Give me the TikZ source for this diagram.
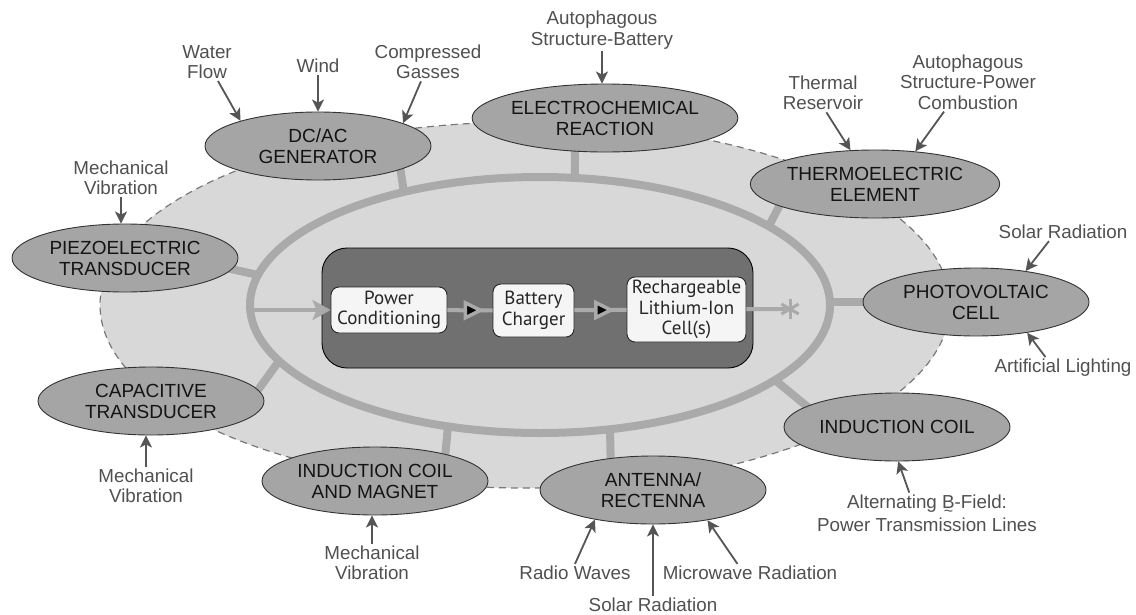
\documentclass[tikz,border=0pt]{standalone}
\usepackage{fontspec}
\setmainfont{Liberation Sans}
\newfontfamily\boxfont{PT Sans}
\usetikzlibrary{shapes.geometric,arrows.meta,calc}
\definecolor{bgfill}{RGB}{216,216,216}
\definecolor{dashc}{RGB}{120,120,120}
\definecolor{ringc}{RGB}{170,170,170}
\definecolor{ellfill}{RGB}{165,165,165}
\definecolor{corefill}{RGB}{112,112,112}
\definecolor{boxfill}{RGB}{245,245,245}
\definecolor{labc}{RGB}{80,80,80}
\definecolor{arrc}{RGB}{85,85,85}
\definecolor{txtc}{RGB}{20,20,20}
\pgfdeclarelayer{bg}
\pgfsetlayers{bg,main}
\newcommand\tildeB{\ooalign{B\cr\hidewidth\raisebox{-8pt}{\fontsize{16}{16}\selectfont\textasciitilde}\hidewidth\cr}}
\begin{document}
\begin{tikzpicture}[x=1pt,y=-1pt,
  src/.style={ellipse, draw=black!80, line width=0.9pt, fill=ellfill, minimum width=226pt, minimum height=68pt, inner sep=0pt, align=center, font=\fontsize{19}{21}\selectfont, text=txtc},
  lab/.style={align=center, font=\fontsize{18.8}{20.5}\selectfont, text=labc, inner sep=2pt},
  feed/.style={draw=arrc, line width=1.8pt, -{Stealth[length=12pt,width=12pt,inset=3pt]}},
  spoke/.style={draw=ringc, line width=8pt, shorten >=-6pt},
  cbox/.style={draw=black!85, line width=0.9pt, fill=boxfill, rounded corners=8pt, align=center, font=\boxfont\fontsize{19}{20.5}\selectfont, inner sep=1pt, text=black!85},
  flow/.style={draw=ringc, line width=4pt},
  midmark/.style={isosceles triangle, isosceles triangle stretches, fill=black, draw=ringc, line width=3.5pt, minimum width=15pt, minimum height=15pt, inner sep=0pt}
]
\useasboundingbox (0,0) rectangle (1136,614);

\begin{pgfonlayer}{bg}
  \fill[bgfill] (525,305) ellipse [x radius=425pt, y radius=183pt];
  \draw[dashc, line width=1.2pt, dash pattern=on 7pt off 5pt] (525,305) ellipse [x radius=425pt, y radius=183pt];
  \draw[ringc, line width=8pt] (540,305) ellipse [x radius=290pt, y radius=128pt];
\end{pgfonlayer}

% source ellipses
\node[src] (gen) at (318,146) {DC/AC\\GENERATOR};
\node[src] (elec) at (605,118) {ELECTROCHEMICAL\\REACTION};
\node[src] (thermo) at (875,184) {THERMOELECTRIC\\ELEMENT};
\node[src] (piezo) at (125,258) {PIEZOELECTRIC\\TRANSDUCER};
\node[src] (photo) at (976,302) {PHOTOVOLTAIC\\CELL};
\node[src] (cap) at (151,401) {CAPACITIVE\\TRANSDUCER};
\node[src] (ind) at (897,427) {INDUCTION COIL};
\node[src] (mag) at (375,481) {INDUCTION COIL\\AND MAGNET};
\node[src] (ant) at (653,490) {ANTENNA/\\RECTENNA};

% outer labels
\node[lab] (wf) at (207,62) {Water\\Flow};
\node[lab] (wind) at (318,66) {Wind};
\node[lab] (cg) at (428,62) {Compressed\\Gasses};
\node[lab] (asb) at (602,30) {Autophagous\\Structure-Battery};
\node[lab] (tr) at (823,93) {Thermal\\Reservoir};
\node[lab] (aspc) at (968,82) {Autophagous\\Structure-Power\\Combustion};
\node[lab] (mv1) at (121,178) {Mechanical\\Vibration};
\node[lab] (sr1) at (1063,232) {Solar Radiation};
\node[lab] (al) at (1063,368) {Artificial Lighting};
\node[lab] (mv2) at (146,486) {Mechanical\\Vibration};
\node[lab] (abf) at (927,513) {Alternating \tildeB-Field:\\Power Transmission Lines};
\node[lab] (mv3) at (372,563) {Mechanical\\Vibration};
\node[lab] (rw) at (575,573) {Radio Waves};
\node[lab] (mw) at (750,573) {Microwave Radiation};
\node[lab] (sr2) at (653,605) {Solar Radiation};

% feed arrows
\draw[feed] (wf.-60) -- (gen.162);
\draw[feed] (wind.south) -- (gen.north);
\draw[feed] (cg.-110) -- (gen.15);
\draw[feed] (asb.south) -- (asb.south |- elec.north);
\draw[feed] (tr.-80) -- (thermo.126);
\draw[feed] (aspc.-129) -- (thermo.39);
\draw[feed] (mv1.south) -- (mv1.south |- piezo.north);
\draw[feed] (sr1.-147) -- (photo.32);
\draw[feed] (al.148) -- (photo.-31);
\draw[feed] (mv2.north) -- (mv2.north |- cap.south);
\draw[feed] (abf.131) -- (ind.-88);
\draw[feed] (mv3.north) -- (mv3.north |- mag.south);
\draw[feed] (rw.north) -- (ant.-153);
\draw[feed] (mw.144) -- (ant.-29);
\draw[feed] (sr2.north) -- (ant.south);

% ring points and spokes
\coordinate (r-gen) at (404,193);
\coordinate (r-elec) at (575,178);
\coordinate (r-thermo) at (769,226);
\coordinate (r-piezo) at (258,275);
\coordinate (r-photo) at (830,302);
\coordinate (r-cap) at (279,361);
\coordinate (r-mag) at (448,426);
\coordinate (r-ant) at (610,429);
\coordinate (r-ind) at (775,380);
\begin{pgfonlayer}{bg}
  \draw[spoke] (r-gen) -- (gen.-16);
  \draw[spoke] (r-elec) -- (elec.-132);
  \draw[spoke] (r-thermo) -- (thermo.-167);
  \draw[spoke] (r-piezo) -- (piezo.-6);
  \draw[spoke] (r-photo) -- (photo.west);
  \draw[spoke] (r-cap) -- (cap.6);
  \draw[spoke] (r-mag) -- (mag.21);
  \draw[spoke] (r-ant) -- (ant.143);
  \draw[spoke] (r-ind) -- (ind.167);
\end{pgfonlayer}

% core
\node[draw=black, line width=0.9pt, fill=corefill, rounded corners=25pt, minimum width=431pt, minimum height=120pt] (core) at (537.5,308) {};
\node[cbox, minimum width=116pt, minimum height=46pt] (pc) at (389,310) {Power\\Conditioning};
\node[cbox, minimum width=81pt, minimum height=53pt] (bc) at (533.5,310.5) {Battery\\Charger};
\node[cbox, minimum width=119pt, minimum height=65pt] (cell) at (686.5,309.5) {Rechargeable\\Lithium-Ion\\Cell(s)};

\coordinate (rin) at (250,310);
\draw[flow, -{Stealth[length=18pt,width=20pt,inset=4pt]}] (rin) -- (pc.west);
\draw[flow] (pc) -- node[midmark]{} (bc);
\draw[flow] (bc) -- node[midmark]{} (cell);
\coordinate (star) at (790,309);
\draw[flow] (cell) -- (star);
\foreach \a in {90,30,150}
  \draw[ringc, line width=3pt] ($(star)+(\a:10)$) -- ($(star)+(\a+180:10)$);
\end{tikzpicture}
\end{document}
